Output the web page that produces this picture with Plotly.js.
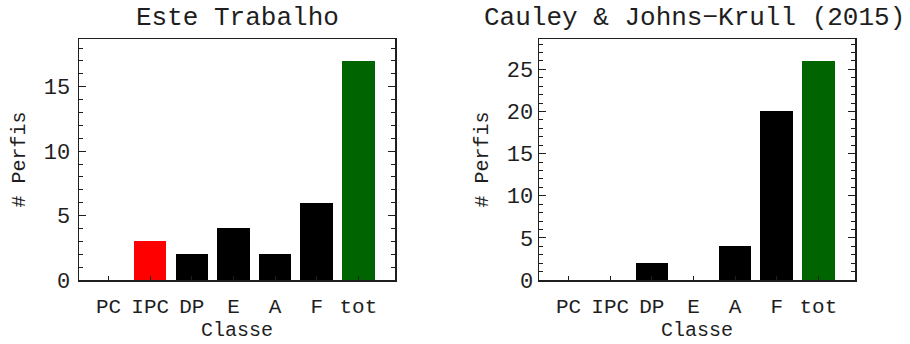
<!DOCTYPE html>
<html>
<head>
<meta charset="utf-8">
<script src="https://cdn.plot.ly/plotly-3.0.1.min.js"></script>
<style>html,body{margin:0;padding:0;background:#fff;}#chart{width:910px;height:344px;}</style>
</head>
<body>
<div id="chart"></div>
<script>
// ---- data ----
var categories = ["PC", "IPC", "DP", "E", "A", "F", "tot"];
var valuesEsteTrabalho = [0, 3, 2, 4, 2, 6, 17];
var valuesCauley = [0, 0, 2, 0, 4, 20, 26];
var titleLeft = "Este Trabalho";
var titleRight = "Cauley & Johns\u2212Krull (2015)";
var xTitle = "Classe";
var yTitle = "# Perfis";

// ---- styles ----
var FONT = "Liberation Mono, Courier New, monospace";
var INK = "#1e1e1e";
function colorsFor(highlightIPC) {
  return categories.map(function (c) {
    if (c === "tot") return "#006400";
    if (c === "IPC" && highlightIPC) return "#ff0000";
    return "#000000";
  });
}

var traces = [
  {type: "bar", x: categories, y: valuesEsteTrabalho, xaxis: "x", yaxis: "y",
   width: 0.78, marker: {color: colorsFor(true), line: {width: 0}},
   showlegend: false, hoverinfo: "x+y"},
  {type: "bar", x: categories, y: valuesCauley, xaxis: "x2", yaxis: "y2",
   width: 0.78, marker: {color: colorsFor(false), line: {width: 0}},
   showlegend: false, hoverinfo: "x+y"}
];

function xax(domain, anchor) {
  return {
    domain: domain, anchor: anchor, type: "category",
    range: [-0.71, 6.88], autorange: false,
    showline: true, linecolor: INK, linewidth: 1.5, mirror: true,
    ticks: "inside", ticklen: 4, tickwidth: 1, tickcolor: INK,
    tickfont: {family: FONT, size: 21, color: INK},
    ticklabelstandoff: 6,
    showgrid: false, zeroline: false, fixedrange: true,
    title: {text: xTitle, font: {family: FONT, size: 20, color: INK}, standoff: 0}
  };
}
function yax(domain, anchor, top, standoff) {
  return {
    domain: domain, anchor: anchor,
    range: [0, top], autorange: false,
    showline: true, linecolor: INK, linewidth: 1.5, mirror: "ticks",
    ticks: "inside", ticklen: 7, tickwidth: 1, tickcolor: INK, dtick: 5,
    minor: {dtick: 1, ticks: "inside", ticklen: 4, tickwidth: 1, tickcolor: INK, showgrid: false},
    tickfont: {family: FONT, size: 22, color: INK},
    ticklabelstandoff: standoff,
    showgrid: false, zeroline: false, fixedrange: true,
    title: {text: yTitle, font: {family: FONT, size: 20, color: INK}, standoff: 12}
  };
}

var yDomain = [1 - 280 / 344, 1 - 39 / 344];
var layout = {
  width: 910, height: 344,
  margin: {l: 0, r: 0, t: 0, b: 0},
  paper_bgcolor: "#fff", plot_bgcolor: "#fff",
  bargap: 0,
  xaxis: xax([79 / 910, 395 / 910], "y"),
  yaxis: yax(yDomain, "x", 17 * 1.1, 3),
  xaxis2: xax([539 / 910, 855 / 910], "y2"),
  yaxis2: yax(yDomain, "x2", 26 * 1.1, 0),
  annotations: [
    {text: titleLeft, xref: "paper", yref: "paper", x: 237 / 910, y: 1 - 1 / 344,
     xanchor: "center", yanchor: "top", showarrow: false,
     font: {family: FONT, size: 26, color: INK}},
    {text: titleRight, xref: "paper", yref: "paper", x: 694 / 910, y: 1 - 1 / 344,
     xanchor: "center", yanchor: "top", showarrow: false,
     font: {family: FONT, size: 26, color: INK}}
  ]
};

Plotly.newPlot("chart", traces, layout, {displayModeBar: false, staticPlot: true});
</script>
</body>
</html>
